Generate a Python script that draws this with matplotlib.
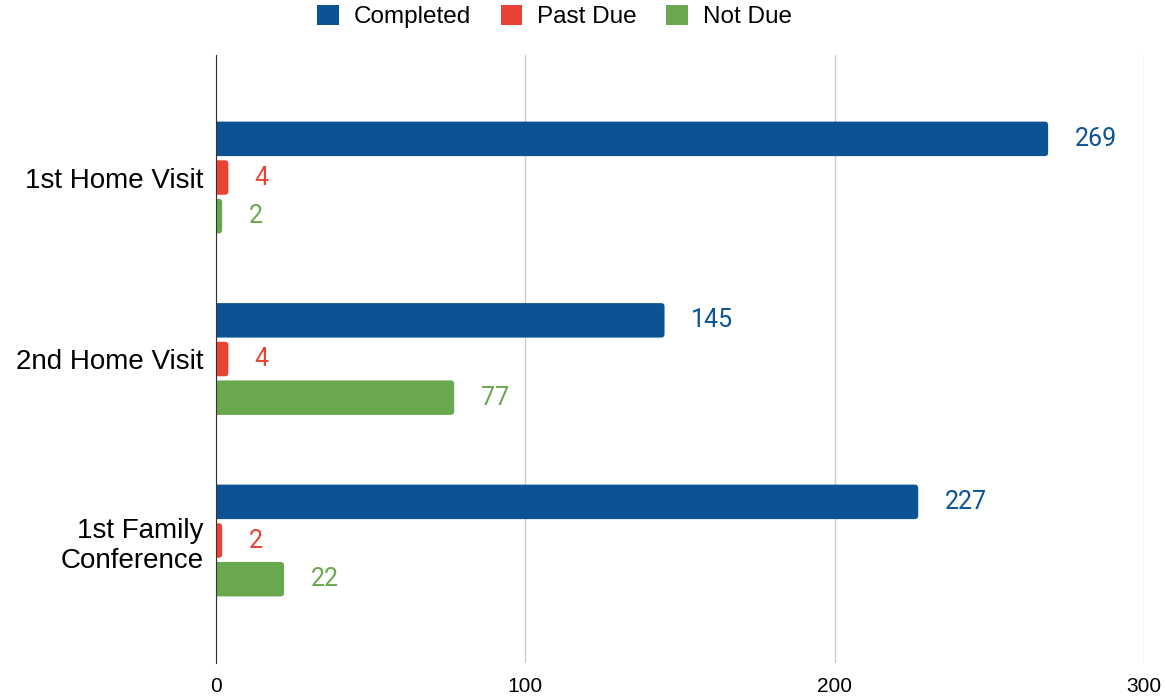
import matplotlib
matplotlib.use("Agg")
import matplotlib.pyplot as plt
from matplotlib.patches import FancyBboxPatch, Patch
import numpy as np

categories = ["1st Home Visit", "2nd Home Visit", "1st Family\nConference"]
series_names = ["Completed", "Past Due", "Not Due"]
completed = [269, 145, 227]
past_due = [4, 4, 2]
not_due = [2, 77, 22]
xticks = [0, 100, 200, 300]
colors = ["#0B5394", "#EA4335", "#6AA84F"]

fig = plt.figure(figsize=(11.65, 6.98), dpi=100)
ax = fig.add_axes([0.1854, 0.0501, 0.982 - 0.1854, 0.9212 - 0.0501])
ax.set_xlim(0, 300)
ax.set_ylim(2.675, -0.675)

# pixel scales for rounded corners
fig.canvas.draw()
bbox = ax.get_window_extent()
px_x = bbox.width / 300.0
px_y = bbox.height / 3.35
r_px = 3.5
r_x = r_px / px_x
aspect = (r_px / px_y) / r_x

y = np.arange(len(categories))
offsets = [-0.213, 0.0, 0.213]
h = 0.19
for vals, name, col, off in zip([completed, past_due, not_due], series_names, colors, offsets):
    bars = ax.barh(y + off, vals, height=h, color=col, zorder=3)
    for b, v in zip(bars, vals):
        b.set_visible(False)
        x0 = -2 * r_x
        patch = FancyBboxPatch((x0, b.get_y()), b.get_width() - x0, b.get_height(),
                               boxstyle=f"round,pad=0,rounding_size={r_x}",
                               mutation_aspect=aspect, facecolor=col, edgecolor="none",
                               zorder=3, clip_on=True)
        ax.add_patch(patch)
        ax.annotate(str(v), (b.get_width(), b.get_y() + b.get_height() / 2),
                    xytext=(19, 0), textcoords="offset points", va="center", ha="left",
                    color=col, fontsize=18, family="Roboto")

ax.set_xticks(xticks)
ax.set_xticklabels([str(t) for t in xticks], fontsize=15, family="Liberation Sans")
ax.set_yticks(y)
ax.set_yticklabels(categories, fontsize=20, family="Liberation Sans", linespacing=1.22)
ax.tick_params(axis="both", length=0)
ax.tick_params(axis="x", pad=10)
ax.tick_params(axis="y", pad=9)
ax.grid(axis="x", color="#cccccc", linewidth=1, zorder=0)
for s in ["top", "right", "bottom"]:
    ax.spines[s].set_visible(False)
ax.spines["left"].set_color("#333333")
ax.spines["left"].set_zorder(4)

handles = [Patch(facecolor=c, edgecolor="none", label=n) for c, n in zip(colors, series_names)]
leg = fig.legend(handles=handles, loc="center", bbox_to_anchor=(0.476, 0.976), ncol=3, frameon=False,
                 prop={"family": "Liberation Sans", "size": 17.5}, handlelength=0.87, handleheight=0.87,
                 handletextpad=0.62, columnspacing=1.23)

fig.savefig("out.png", dpi=100)
